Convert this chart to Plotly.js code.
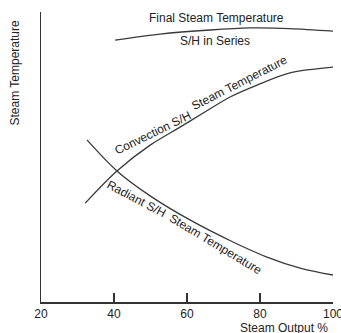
<!DOCTYPE html>
<html>
<head>
<meta charset="utf-8">
<script src="https://cdn.plot.ly/plotly-3.0.1.min.js"></script>
<style>html,body{margin:0;padding:0;background:#fff;}#chart{width:341px;height:333px;}</style>
</head>
<body>
<div id="chart"></div>
<script>
// Steam output (%) and relative steam temperature (0-100 scale, no units shown)
const finalX = [40.3, 52.6, 66.3, 77.3, 88.2, 100];
const finalY = [90.3, 92.4, 93.8, 94.5, 94.3, 93.4];
const convX = [32.1, 40.8, 49.9, 58.1, 64.9, 71.8, 79.2, 88.2, 100];
const convY = [34.1, 45.2, 54.1, 60.3, 65.5, 70.7, 74.8, 79.0, 81.0];
const radX = [32.6, 40.8, 49.9, 60.8, 72.6, 81.9, 91.0, 100];
const radY = [55.9, 45.2, 36.6, 28.3, 20.7, 15.5, 11.7, 9.3];
const xTicks = [20, 40, 60, 80, 100];
const xTickText = ['20', '40', '60', '80', '100'];

const lineStyle = {color: '#3a3a3a', width: 1.3, shape: 'spline', smoothing: 0.9};
const font = {family: 'Liberation Sans, Arial, sans-serif', size: 12, color: '#222'};

const traces = [
  {x: finalX, y: finalY, mode: 'lines', line: lineStyle, hoverinfo: 'skip'},
  {x: convX, y: convY, mode: 'lines', line: lineStyle, hoverinfo: 'skip'},
  {x: radX, y: radY, mode: 'lines', line: lineStyle, hoverinfo: 'skip'}
];

function note(text, x, y, angle) {
  return {text: text, x: x, y: y, xref: 'x', yref: 'y', showarrow: false,
          textangle: angle, xanchor: 'center', yanchor: 'middle', font: font};
}

const layout = {
  width: 341, height: 333,
  margin: {l: 41, r: 8, t: 12, b: 31},
  paper_bgcolor: '#fff', plot_bgcolor: '#fff',
  showlegend: false,
  font: font,
  xaxis: {
    range: [20, 100], tickvals: xTicks, ticktext: xTickText,
    ticks: 'inside', ticklen: 9, tickwidth: 1.5, tickcolor: '#333',
    showline: true, linewidth: 1.5, linecolor: '#333',
    showgrid: false, zeroline: false, tickfont: font, fixedrange: true,
    ticklabeloverflow: 'allow'
  },
  yaxis: {
    range: [0, 100], showline: true, linewidth: 1.5, linecolor: '#333',
    showticklabels: false, ticks: '', showgrid: false, zeroline: false, fixedrange: true
  },
  annotations: [
    note('Final Steam Temperature', 67.95, 97.9, 0),
    note('S/H in Series', 67.67, 90.0, 0),
    note('Convection S/H', 50.6, 58.4, -26),
    note('Steam Temperature', 74.3, 75.4, -27),
    note('Radiant S/H', 46.2, 35.5, 28),
    note('Steam Temperature', 67.8, 20.0, 31),
    {text: 'Steam Temperature', x: -0.089, y: 0.788, xref: 'paper', yref: 'paper', showarrow: false,
     textangle: -90, xanchor: 'center', yanchor: 'middle', font: font},
    {text: 'Steam Output %', x: 0.832, y: -0.088, xref: 'paper', yref: 'paper', showarrow: false,
     xanchor: 'center', yanchor: 'middle', font: font}
  ]
};

Plotly.newPlot('chart', traces, layout, {displayModeBar: false, staticPlot: true});
</script>
</body>
</html>
